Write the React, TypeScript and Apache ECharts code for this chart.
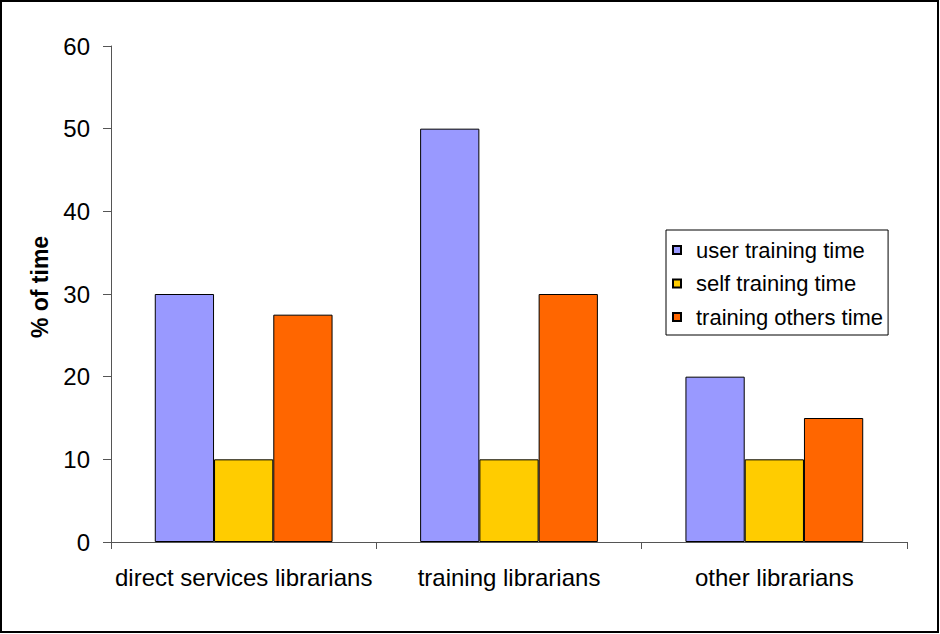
import React, { useEffect, useRef } from "react";
import * as echarts from "echarts";

const categories = ["direct services librarians", "training librarians", "other librarians"];
const seriesNames = ["user training time", "self training time", "training others time"];
const userTraining = [30, 50, 20];
const selfTraining = [10, 10, 10];
const trainingOthers = [27.5, 30, 15];
const colors = ["#9999FF", "#FFCC00", "#FF6600"];
const yTitle = "% of time";

const FONT = "'Liberation Sans', Arial, sans-serif";

export default function App() {
  const ref = useRef<HTMLDivElement>(null);
  useEffect(() => {
    const chart = echarts.init(ref.current!, null, { renderer: "svg" });
    const values = [userTraining, selfTraining, trainingOthers];
    chart.setOption({
      animation: false,
      backgroundColor: "#ffffff",
      grid: { left: 111, right: 33, top: 46, bottom: 92, containLabel: false },
      xAxis: {
        type: "category",
        data: categories,
        axisLine: { lineStyle: { color: "#555", width: 1 } },
        axisTick: { show: true, length: 7, lineStyle: { color: "#555" } },
        axisLabel: { color: "#000", fontFamily: FONT, fontSize: 24, margin: 23, interval: 0 },
        splitLine: { show: false },
      },
      yAxis: {
        type: "value",
        min: 0,
        max: 60,
        interval: 10,
        axisLine: { show: true, lineStyle: { color: "#555", width: 1 } },
        axisTick: { show: true, length: 8, lineStyle: { color: "#555" } },
        axisLabel: { color: "#000", fontFamily: FONT, fontSize: 24, margin: 21 },
        splitLine: { show: false },
      },
      legend: {
        orient: "vertical",
        left: 666,
        top: 230,
        padding: [9, 5, 7, 6],
        itemGap: 11.5,
        itemWidth: 8,
        itemHeight: 8,
        icon: "rect",
        backgroundColor: "#fff",
        borderColor: "#000",
        borderWidth: 1,
        data: seriesNames,
        textStyle: {
          color: "#000",
          fontFamily: FONT,
          fontSize: 22,
          lineHeight: 22,
          padding: [0, 0, 0, 10],
        },
      },
      graphic: [
        {
          type: "text",
          x: 40,
          y: 287,
          rotation: Math.PI / 2,
          style: {
            text: yTitle,
            fontFamily: FONT,
            fontSize: 23,
            fontWeight: "bold",
            fill: "#000",
            align: "center",
            verticalAlign: "middle",
          },
        },
        {
          type: "rect",
          shape: { x: 1, y: 1, width: 937, height: 631 },
          style: { fill: "none", stroke: "#000", lineWidth: 2 },
        },
      ],
      series: seriesNames.map((name, i) => ({
        name,
        type: "bar",
        data: values[i],
        barGap: "0%",
        barCategoryGap: "33%",
        itemStyle: { color: colors[i], borderColor: "#000", borderWidth: 1 },
      })),
    });
    return () => chart.dispose();
  }, []);
  return (
    <div
      ref={ref}
      style={{ position: "fixed", left: 0, top: 0, width: 940, height: 634 }}
    />
  );
}
